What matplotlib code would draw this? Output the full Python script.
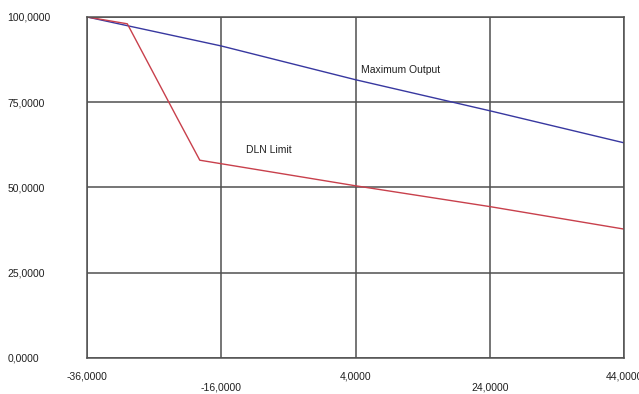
import matplotlib.pyplot as plt

plt.rcParams['font.family'] = ['Liberation Sans', 'DejaVu Sans']

# Maximum Output curve
max_x = [-36, -16, 4, 24, 44]
max_y = [100, 91.5, 81.6, 72.5, 63.1]

# DLN Limit curve
dln_x = [-36, -30, -22.6, -19.2, 4, 24, 44]
dln_y = [100, 98, 70.5, 58, 50.5, 44.4, 37.8]

x_ticks = [-36, -16, 4, 24, 44]
y_ticks = [0, 25, 50, 75, 100]

fig = plt.figure(figsize=(6.39, 3.94), dpi=100)
ax = fig.add_axes([0.1362, 0.0914, 0.8403, 0.8655])

ax.plot(max_x, max_y, color='#3838a0', lw=1)
ax.plot(dln_x, dln_y, color='#c8404c', lw=1)

ax.text(4.8, 84.5, 'Maximum Output', fontsize=7.5, va='center', color='#202020')
ax.text(-12.3, 61, 'DLN Limit', fontsize=7.5, va='center', color='#202020')

ax.set_xlim(-36, 44)
ax.set_ylim(0, 100)

# grid lines
ax.set_yticks(y_ticks)
ax.set_yticklabels(['%.4f' % v for v in y_ticks])
ax.set_yticklabels([('%.4f' % v).replace('.', ',') for v in y_ticks])
for v in y_ticks:
    ax.axhline(v, color='#505050', lw=1.1, zorder=0)
for v in x_ticks:
    ax.axvline(v, color='#505050', lw=1.1, zorder=0)

# x labels in two staggered rows
ax.set_xticks(x_ticks[::2])
ax.set_xticklabels([('%.4f' % v).replace('.', ',') for v in x_ticks[::2]])
ax.set_xticks(x_ticks[1::2], minor=True)
ax.set_xticklabels([('%.4f' % v).replace('.', ',') for v in x_ticks[1::2]], minor=True)

ax.tick_params(axis='x', which='major', length=0, pad=10, labelsize=7.5, labelcolor='#202020')
ax.tick_params(axis='x', which='minor', length=0, pad=17.5, labelsize=7.5, labelcolor='#202020')
ax.tick_params(axis='y', length=0, pad=57.5, labelsize=7.5, labelcolor='#202020')
for lab in ax.get_yticklabels():
    lab.set_horizontalalignment('left')

for s in ax.spines.values():
    s.set_color('#505050')
    s.set_linewidth(1.1)

fig.savefig('out.png', dpi=100)
